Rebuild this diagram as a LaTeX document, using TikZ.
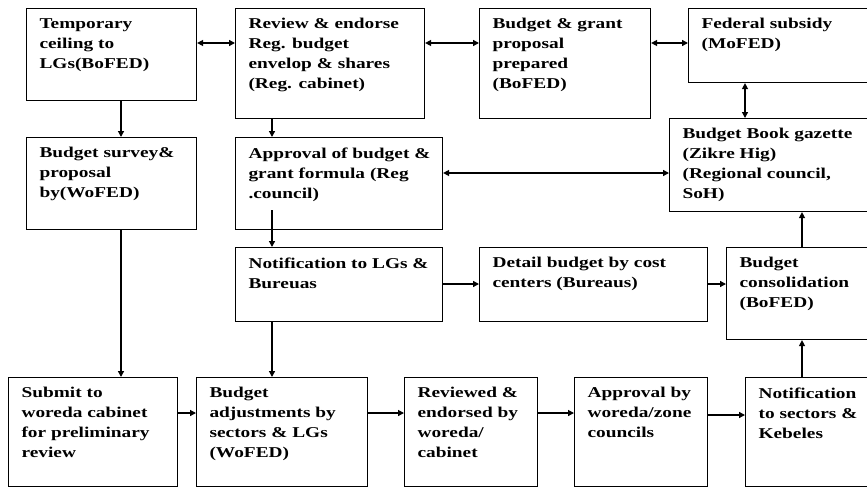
\documentclass[tikz,border=0pt]{standalone}
\usepackage{fontspec}
\setmainfont{Liberation Serif}[FakeStretch=1.29]
\usetikzlibrary{arrows.meta}
\tikzset{stage/.style={draw, line width=1.1pt, anchor=north west, inner xsep=0pt, inner ysep=10pt, font=\bfseries\fontsize{15}{20}\selectfont},
  link/.style={line width=1.3pt}}
% box of given width/height (px) with text at top left
\newcommand{\stg}[3]{\hspace*{13pt}\parbox[t][\dimexpr#2pt-20pt\relax][t]{\dimexpr#1pt-13pt\relax}{\raggedright #3}}

\begin{document}
\begin{tikzpicture}[x=1pt, y=-1pt, >={Triangle[length=6pt,width=6pt]}]
    \clip (0,0) rectangle (867,487);
    \node[stage] (ceil) at (26,8) {\stg{170}{92}{Temporary\\ceiling to\\LGs(BoFED)}};
    \node[stage] (review) at (235,8) {\stg{189}{110}{Review \& endorse\\Reg. budget\\envelop \& shares\\(Reg. cabinet)}};
    \node[stage] (grant) at (479,8) {\stg{171}{110}{Budget \& grant\\proposal\\prepared\\(BoFED)}};
    \node[stage] (fed) at (688,8) {\stg{192}{74}{Federal subsidy\\(MoFED)}};

    \node[stage] (survey) at (26,137) {\stg{170}{92}{Budget survey\&\\proposal\\by(WoFED)}};
    \node[stage] (approval) at (235,137) {\stg{207}{92}{Approval of budget \&\\grant formula (Reg\\.council)}};
    \node[stage] (gazette) at (669,118) {\stg{211}{93}{Budget Book gazette\\(Zikre Hig)\\(Regional council,\\SoH)}};

    \node[stage] (notify) at (235,247) {\stg{207}{74}{Notification to LGs \&\\Bureuas}};
    \node[stage] (detail) at (479,247) {\stg{228}{74}{Detail budget by cost\\centers (Bureaus)}};
    \node[stage] (consol) at (726,247) {\stg{154}{92}{Budget\\consolidation\\(BoFED)}};

    \node[stage] (submit) at (8,377) {\stg{169}{109}{Submit to\\woreda cabinet\\for preliminary\\review}};
    \node[stage] (adjust) at (196,377) {\stg{171}{109}{Budget\\adjustments by\\sectors \& LGs\\(WoFED)}};
    \node[stage] (reviewed) at (404,377) {\stg{133}{109}{Reviewed \&\\endorsed by\\woreda/\\cabinet}};
    \node[stage] (woreda) at (574,377) {\stg{133}{109}{Approval by\\woreda/zone\\councils}};
    \node[stage] (kebele) at (745,377) {\stg{135}{109}{Notification\\to sectors \&\\Kebeles}};

    \coordinate (apptail) at (272,210);

    \draw[link,<->] (ceil.east |- 0,43) -- (review.west |- 0,43);
    \draw[link,<->] (review.east |- 0,43) -- (grant.west |- 0,43);
    \draw[link,<->] (grant.east |- 0,43) -- (fed.west |- 0,43);
    \draw[link,<->] (fed.south -| 745,0) -- (gazette.north -| 745,0);

    \draw[link,->] (ceil.south -| 121,0) -- (survey.north -| 121,0);
    \draw[link,->] (review.south -| 272,0) -- (approval.north -| 272,0);
    \draw[link,<->] (approval.east |- 0,173) -- (gazette.west |- 0,173);
    \draw[link,->] (apptail) -- (notify.north -| apptail);

    \draw[link,->] (survey.south -| 121,0) -- (submit.north -| 121,0);
    \draw[link,->] (notify.south -| 272,0) -- (adjust.north -| 272,0);
    \draw[link,->] (notify.east |- 0,284) -- (detail.west |- 0,284);
    \draw[link,->] (detail.east |- 0,284) -- (consol.west |- 0,284);
    \draw[link,->] (consol.north -| 802,0) -- (gazette.south -| 802,0);
    \draw[link,->] (kebele.north -| 802,0) -- (consol.south -| 802,0);

    \draw[link,->] (submit.east |- 0,413) -- (adjust.west |- 0,413);
    \draw[link,->] (adjust.east |- 0,413) -- (reviewed.west |- 0,413);
    \draw[link,->] (reviewed.east |- 0,413) -- (woreda.west |- 0,413);
    \draw[link,->] (woreda.east |- 0,415) -- (kebele.west |- 0,415);
\end{tikzpicture}
\end{document}
